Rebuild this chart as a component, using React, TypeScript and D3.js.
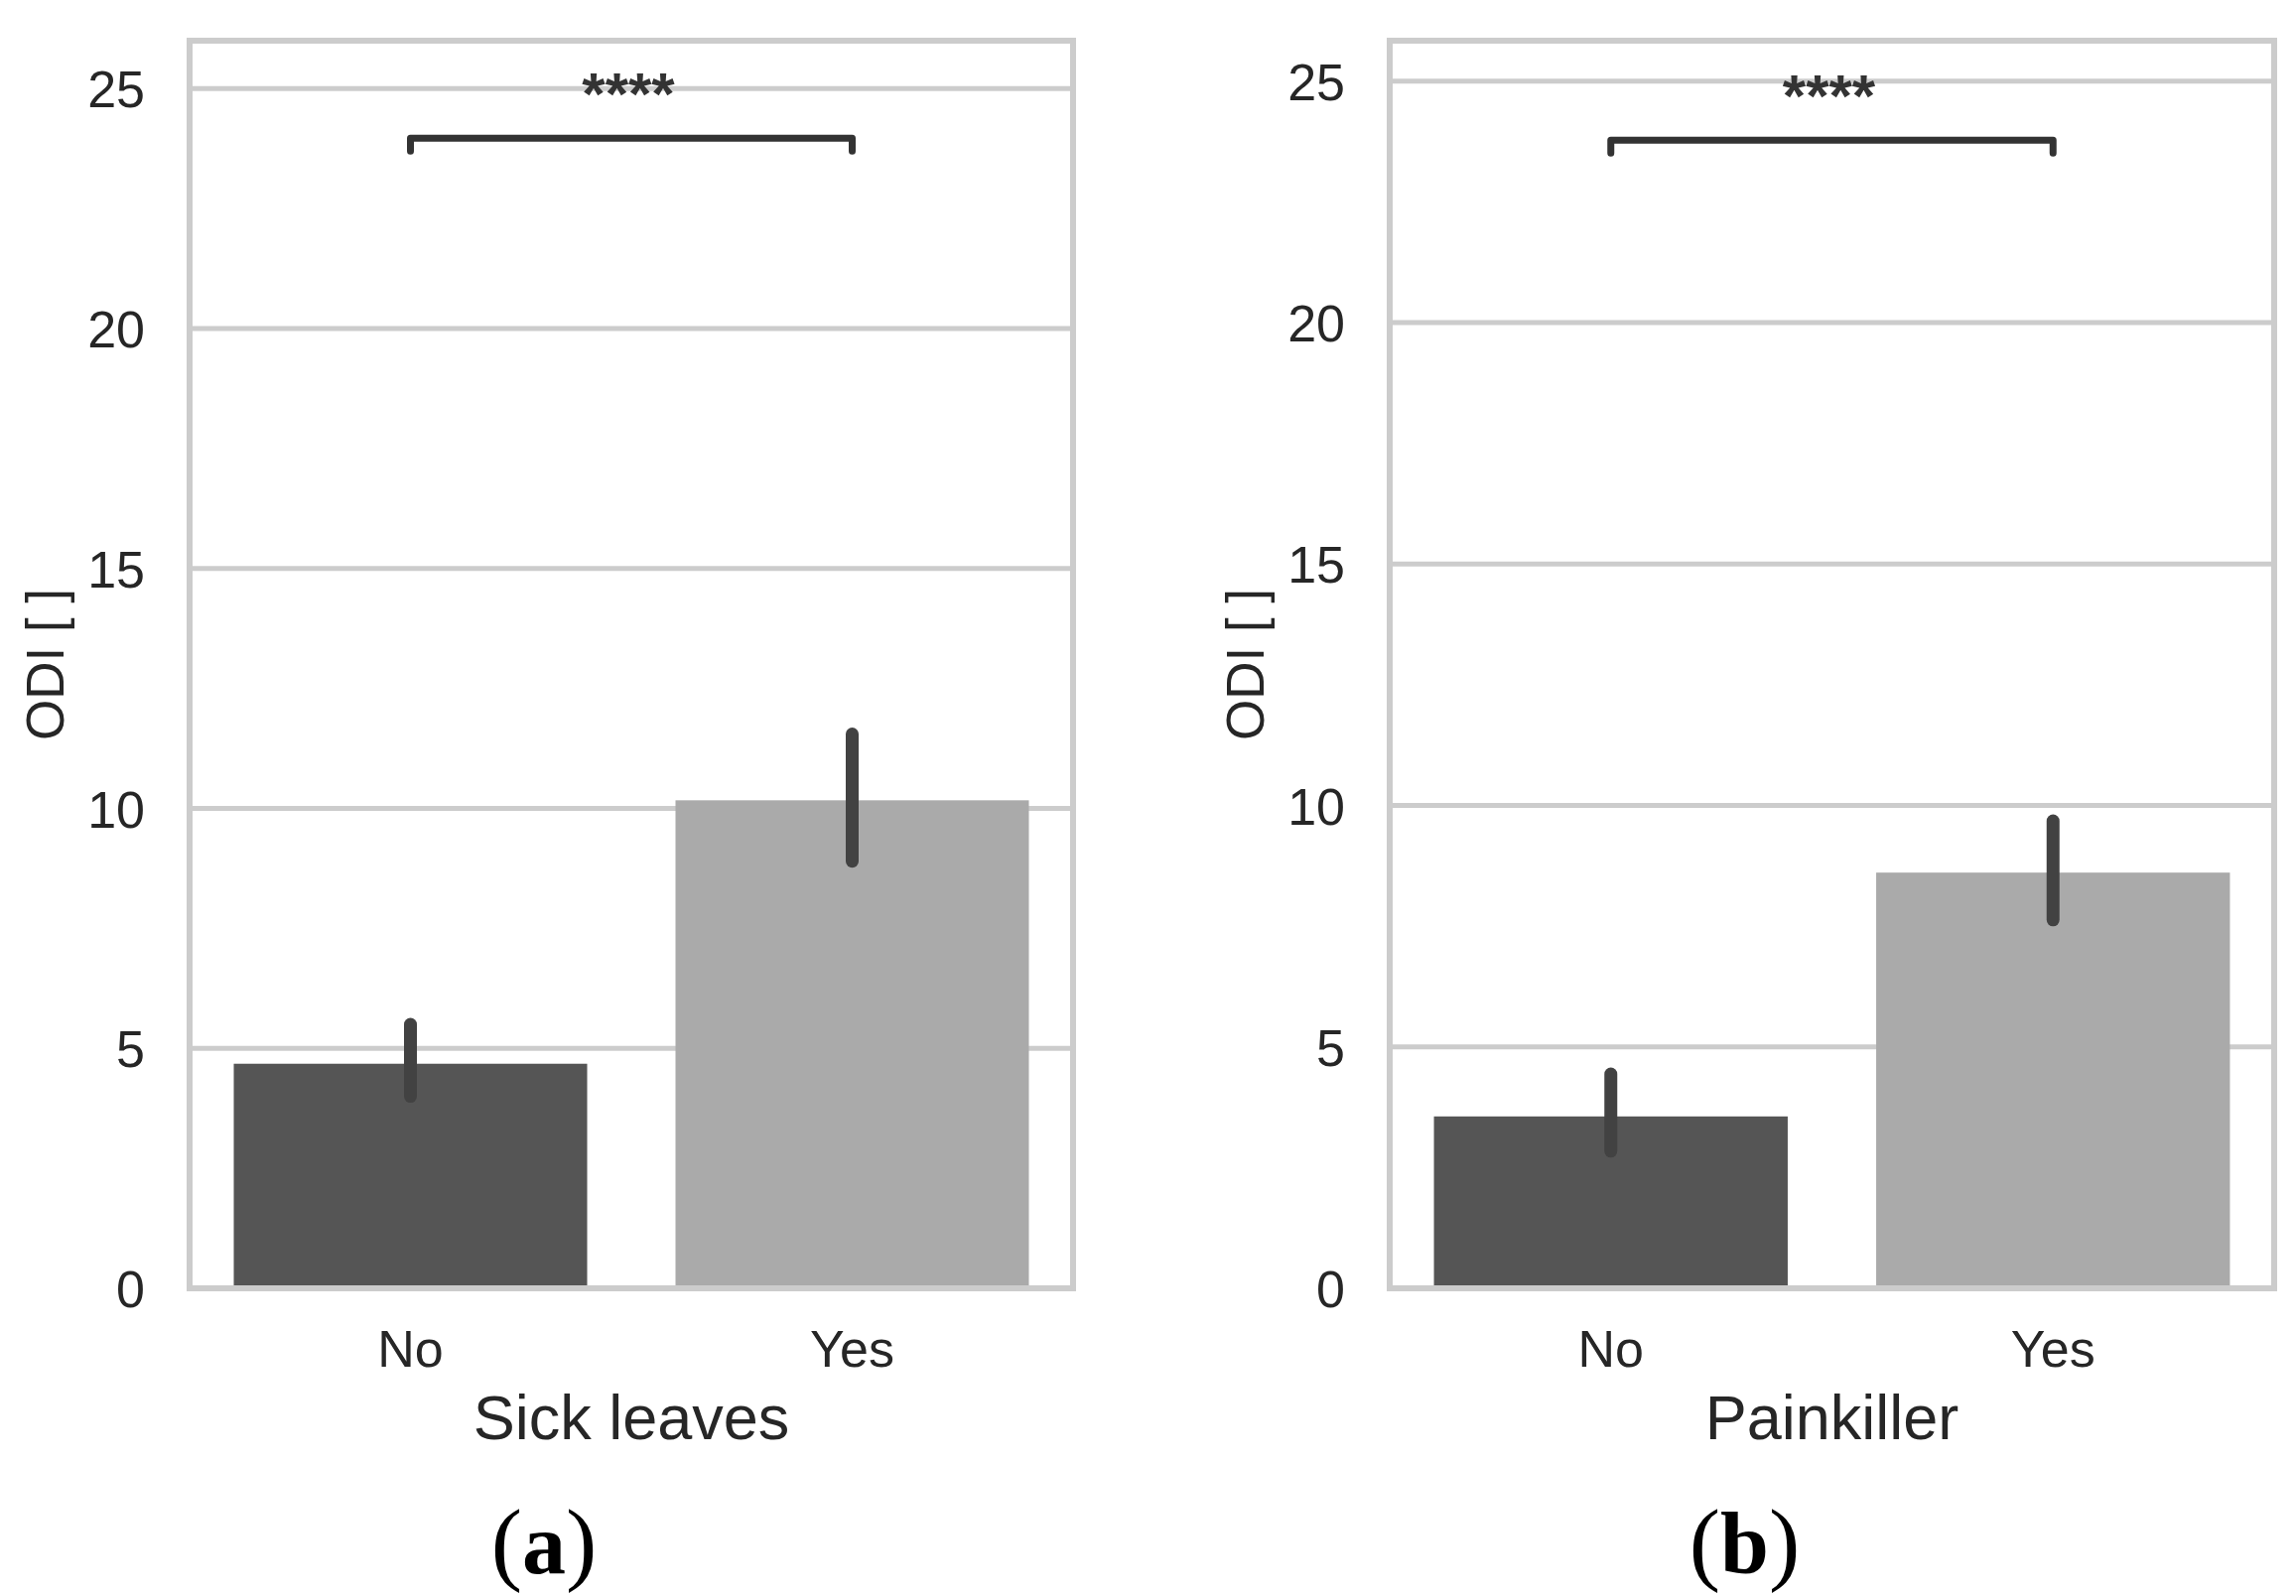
import React from "react";
import * as d3 from "d3";

const W = 2313;
const H = 1608;

const categories = ["No", "Yes"];
const yTicks = [0, 5, 10, 15, 20, 25];

// Panel (a) Sick leaves
const sickMeans = [4.68, 10.17];
const sickLow = [4.0, 8.9];
const sickHigh = [5.5, 11.55];

// Panel (b) Painkiller
const painMeans = [3.56, 8.61];
const painLow = [2.84, 7.63];
const painHigh = [4.44, 9.68];

const panelTitles = ["Sick leaves", "Painkiller"];
const panelLetters = ["a", "b"];
const yLabel = "ODI [ ]";
const sigText = "****";
const yMaxes = [26.0, 25.84];
const bracketY = [23.97, 23.78];

const barColors = ["#555555", "#aaaaaa"];
const gridColor = "#cccccc";
const textColor = "#262626";
const errColor = "#424242";
const sans = "'Liberation Sans', Arial, Helvetica, sans-serif";
const serif = "'Liberation Serif', 'Times New Roman', serif";

type PanelProps = {
  left: number;
  right: number;
  top: number;
  bottom: number;
  means: number[];
  low: number[];
  high: number[];
  title: string;
  letter: string;
  yMax: number;
  bracket: number;
};

function Panel(p: PanelProps) {
  const x = d3.scalePoint<string>().domain(categories).range([p.left, p.right]).padding(0.5);
  const step = x.step();
  const bw = step * 0.8;
  const y = d3.scaleLinear().domain([0, p.yMax]).range([p.bottom, p.top]);
  const cx = (p.left + p.right) / 2;
  const x1 = x(categories[0])!;
  const x2 = x(categories[1])!;
  const by = y(p.bracket);
  const tip = 13;
  return (
    <g>
      <rect x={p.left} y={p.top} width={p.right - p.left} height={p.bottom - p.top} fill="#ffffff" />
      {yTicks.map((t) => (
        <line key={"g" + t} x1={p.left} x2={p.right} y1={y(t)} y2={y(t)} stroke={gridColor} strokeWidth={5} />
      ))}
      {categories.map((c, i) => (
        <rect
          key={"b" + c}
          x={x(c)! - bw / 2}
          y={y(p.means[i])}
          width={bw}
          height={y(0) - y(p.means[i])}
          fill={barColors[i]}
        />
      ))}
      {categories.map((c, i) => (
        <line
          key={"e" + c}
          x1={x(c)!}
          x2={x(c)!}
          y1={y(p.low[i])}
          y2={y(p.high[i])}
          stroke={errColor}
          strokeWidth={13}
          strokeLinecap="round"
        />
      ))}
      <rect
        x={p.left}
        y={p.top}
        width={p.right - p.left}
        height={p.bottom - p.top}
        fill="none"
        stroke={gridColor}
        strokeWidth={6}
      />
      <path
        d={`M${x1},${by + tip} L${x1},${by} L${x2},${by} L${x2},${by + tip}`}
        fill="none"
        stroke="#333333"
        strokeWidth={7}
        strokeLinejoin="round"
        strokeLinecap="round"
      />
      <text x={cx - 3} y={by - 24} textAnchor="middle" fontFamily={sans} fontSize={60} fontWeight="bold" fill="#333333">
        {sigText}
      </text>
      {yTicks.map((t) => (
        <text
          key={"t" + t}
          x={p.left - 45}
          y={y(t) + 19}
          textAnchor="end"
          fontFamily={sans}
          fontSize={52}
          fill={textColor}
        >
          {t}
        </text>
      ))}
      {categories.map((c) => (
        <text key={"x" + c} x={x(c)!} y={p.bottom + 79} textAnchor="middle" fontFamily={sans} fontSize={52} fill={textColor}>
          {c}
        </text>
      ))}
      <text x={cx} y={p.bottom + 152} textAnchor="middle" fontFamily={sans} fontSize={63} fill={textColor}>
        {p.title}
      </text>
      <text
        transform={`translate(${p.left - 127},${(p.top + p.bottom) / 2}) rotate(-90)`}
        textAnchor="middle"
        fontFamily={sans}
        fontSize={53}
        fill={textColor}
      >
        {yLabel}
      </text>
      <text x={cx - 88} y={1585} textAnchor="middle" fontFamily={serif} fontSize={88} fill="#000000">
        <tspan fontWeight="normal" fontSize={94}>(</tspan>
        <tspan fontWeight="bold">{p.letter}</tspan>
        <tspan fontWeight="normal" fontSize={94}>)</tspan>
      </text>
    </g>
  );
}

export default function App() {
  return (
    <div style={{ position: "absolute", left: 0, top: 0 }}>
      <svg width={W} height={H} viewBox={`0 0 ${W} ${H}`} style={{ display: "block", background: "#ffffff" }}>
        <rect x={0} y={0} width={W} height={H} fill="#ffffff" />
        <Panel
          left={191}
          right={1081}
          top={41}
          bottom={1298}
          means={sickMeans}
          low={sickLow}
          high={sickHigh}
          title={panelTitles[0]}
          letter={panelLetters[0]}
          yMax={yMaxes[0]}
          bracket={bracketY[0]}
        />
        <Panel
          left={1400}
          right={2291}
          top={41}
          bottom={1298}
          means={painMeans}
          low={painLow}
          high={painHigh}
          title={panelTitles[1]}
          letter={panelLetters[1]}
          yMax={yMaxes[1]}
          bracket={bracketY[1]}
        />
      </svg>
    </div>
  );
}
